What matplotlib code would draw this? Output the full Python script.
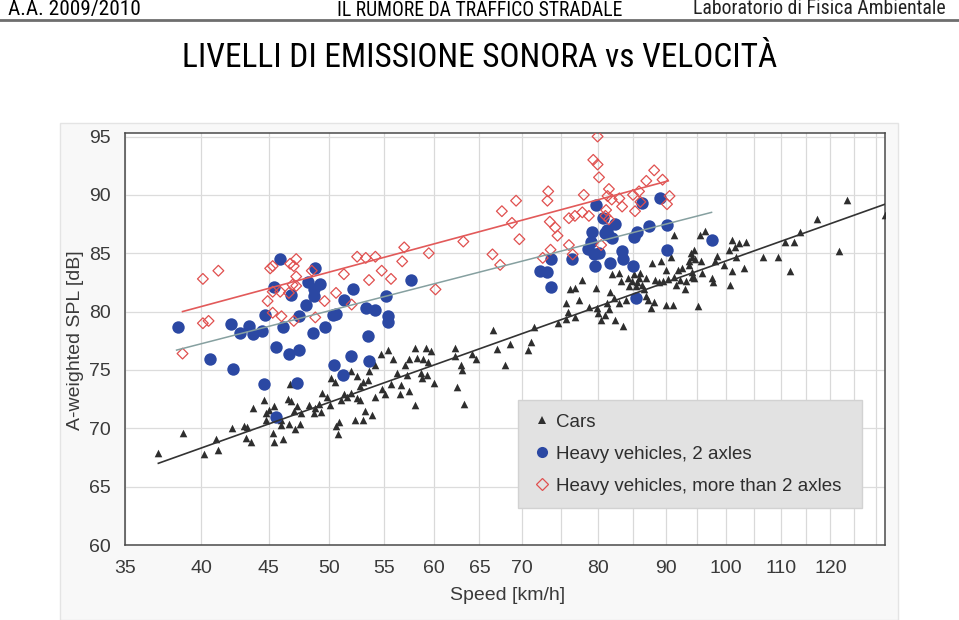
import matplotlib.pyplot as plt
from matplotlib import font_manager as fm
from matplotlib.lines import Line2D
from matplotlib.patches import Rectangle

# ---------- data (speed in km/h, level in dB(A)) ----------
cars_speed = [37.1, 38.7, 40.2, 41.0, 41.2, 42.2, 43.1, 43.3, 43.2, 43.6, 43.8, 44.6, 44.8, 45.0,
              44.8, 45.3, 45.4, 45.4, 46.1, 46.0, 46.0, 46.6, 46.5, 46.8, 47.1, 47.5, 47.3, 47.6,
              47.0, 46.7, 48.3, 48.7, 48.8, 49.1, 49.4, 49.3, 49.8, 50.1, 50.2, 50.6, 50.8, 50.9,
              51.0, 51.3, 51.6, 51.9, 52.3, 52.5, 52.8, 53.0, 53.2, 53.9, 54.2, 54.8, 55.1, 55.7,
              56.6, 56.7, 57.5, 58.1, 60.0, 62.5, 63.3, 52.8, 53.5, 53.0, 50.5,
              54.7, 55.4, 55.9, 54.2, 58.1, 57.5, 57.1, 58.3, 59.2, 59.7, 58.9, 59.4, 62.3, 62.3,
              64.2, 64.6, 66.6, 67.0, 68.6, 68.0, 70.7, 62.9, 63.1, 53.6, 51.9, 52.5, 58.7, 58.8,
              59.3, 57.3, 56.3,
              71.1, 71.5, 74.5, 75.6, 76.8, 75.9, 75.6, 76.2, 76.8, 77.3, 77.8, 78.7, 79.7, 79.8,
              79.9, 80.4, 80.9, 81.2, 81.5, 81.9, 81.7, 82.2, 82.4, 83.0, 83.0, 83.3, 83.5, 84.0,
              84.2, 84.4, 84.9, 85.1, 85.4, 85.6, 85.9, 86.1, 86.4, 86.6, 86.9, 86.9, 87.3, 87.7,
              87.9, 88.2, 88.4, 89.0, 89.3, 89.5, 90.0, 90.0, 90.4, 90.8, 91.1, 91.3, 91.3, 91.6,
              91.9, 92.2, 92.6, 93.0, 93.3, 93.7, 94.1, 94.3, 94.6, 94.8, 95.3, 95.6, 96.4, 95.8,
              95.9, 97.6, 97.8, 94.6, 94.3, 93.8, 94.3, 98.4, 98.1, 99.6, 101.1, 100.6, 101.5,
              102.3, 103.6, 101.7, 101.0, 103.2, 100.7, 106.7, 109.5, 110.8, 112.6, 113.7, 111.9,
              117.2, 121.9, 123.5, 132.0]
cars_spl = [67.9, 69.6, 67.8, 69.1, 68.1, 70.0, 70.2, 70.1, 69.2, 68.8, 71.7, 72.4, 71.3, 71.6,
            70.7, 69.6, 68.8, 71.9, 69.1, 70.7, 70.3, 70.4, 72.5, 72.3, 69.9, 70.4, 71.9, 71.3,
            71.5, 73.8, 72.0, 71.3, 71.7, 72.1, 73.0, 71.4, 72.7, 72.0, 74.3, 70.2, 69.5, 70.5,
            72.4, 72.9, 72.7, 73.0, 70.7, 72.6, 72.4, 70.7, 71.5, 71.1, 72.7, 73.4, 72.9, 73.8,
            72.9, 73.7, 73.2, 72.0, 73.9, 73.5, 72.1, 73.6, 74.1, 74.0, 74.0,
            76.4, 76.7, 75.9, 75.4, 76.9, 75.9, 75.4, 76.0, 76.9, 76.6, 75.9, 75.7, 76.9, 76.2,
            76.4, 75.9, 78.4, 76.8, 77.2, 75.4, 76.7, 75.4, 75.0, 74.9, 74.9, 74.5, 74.7, 74.3,
            74.6, 74.6, 74.7,
            77.4, 78.7, 79.0, 79.4, 79.5, 80.0, 80.7, 81.9, 82.0, 81.0, 82.7, 80.4, 82.0, 80.3,
            79.9, 79.3, 79.7, 80.7, 80.2, 83.2, 81.7, 81.2, 79.3, 80.7, 83.3, 82.6, 78.8, 81.0,
            82.9, 82.2, 82.6, 83.2, 82.2, 82.5, 82.9, 83.3, 82.3, 81.9, 81.3, 82.9, 81.0, 80.3,
            84.2, 80.8, 82.7, 82.5, 84.3, 82.6, 83.6, 80.6, 82.8, 84.7, 80.6, 86.6, 83.0, 82.3,
            83.6, 82.7, 83.7, 81.9, 82.6, 84.3, 85.0, 83.4, 82.9, 84.5, 80.5, 86.6, 86.9, 84.3,
            83.3, 82.9, 82.5, 85.3, 84.7, 84.0, 83.0, 84.8, 84.3, 84.0, 86.1, 85.3, 85.5,
            85.9, 86.0, 84.7, 83.5, 83.7, 82.3, 84.7, 84.7, 86.0, 86.0, 86.8, 83.5,
            87.9, 85.2, 89.6, 88.3]

hv2_speed = [38.4, 40.6, 42.1, 42.3, 42.8, 43.5, 43.8, 44.5, 44.6, 44.7, 45.4, 45.9, 45.6, 45.6,
             46.1, 46.8, 46.6, 47.4, 47.3, 47.4, 48.2, 48.0, 48.8, 48.7, 48.7, 49.2, 48.6, 49.6,
             50.3, 50.6, 50.4, 51.2, 51.3, 52.1, 51.9, 53.3, 53.5, 53.6, 54.2, 55.2, 55.4, 55.4,
             57.7, 72.2, 73.2, 73.6, 73.7, 76.4, 78.6, 79.1, 79.0, 79.4, 79.5, 79.7, 80.1, 80.7,
             81.0, 81.3, 81.9, 82.4, 81.6, 83.4, 83.6, 85.1, 85.6, 85.0, 86.3, 87.4, 89.1, 90.2,
             90.2, 85.5, 97.5, 81.2]
hv2_spl = [78.7, 75.9, 78.9, 75.1, 78.2, 78.8, 78.1, 78.3, 73.8, 79.7, 82.1, 84.5, 71.0, 77.0,
           78.7, 81.4, 76.4, 76.7, 73.9, 79.6, 82.5, 80.6, 83.7, 81.9, 81.3, 82.4, 78.2, 78.7,
           79.7, 79.8, 75.4, 74.6, 81.0, 81.9, 76.2, 80.3, 77.9, 75.8, 80.1, 81.3, 79.6, 79.1,
           82.7, 83.5, 83.4, 84.5, 82.1, 84.5, 85.4, 86.8, 86.0, 84.9, 83.9, 89.1, 85.0, 88.0,
           86.7, 86.6, 86.3, 87.5, 84.2, 85.2, 84.5, 86.4, 86.8, 83.9, 89.3, 87.3, 89.7, 87.4,
           85.3, 81.2, 86.1, 87.0]

hvm_speed = [38.7, 40.1, 41.2, 40.1, 40.5, 45.1, 45.3, 46.7, 47.2, 47.0, 47.2, 47.2, 46.9, 44.9,
             45.3, 45.9, 46.6, 45.3, 46.0, 47.0, 48.5, 48.8, 49.6, 50.6, 51.3, 52.0, 52.5, 53.3,
             54.2, 53.6, 54.8, 55.7, 56.8, 57.0, 59.5, 60.2, 63.2, 66.5, 67.4, 67.6, 69.3, 68.8,
             69.7, 73.3, 73.2, 73.5, 74.2, 74.5, 73.6, 72.6, 76.0, 76.5, 76.0, 76.8, 78.0, 77.8,
             78.7, 79.9, 79.3, 79.9, 80.1, 80.4, 81.5, 81.3, 81.9, 83.0, 83.4, 81.0, 81.5, 81.1,
             85.0, 86.1, 85.9, 85.3, 87.0, 88.2, 89.5, 90.6, 90.2]
hvm_spl = [76.4, 82.8, 83.5, 79.0, 79.2, 83.7, 83.9, 84.1, 84.5, 83.9, 83.0, 82.2, 82.3, 80.9,
           81.7, 81.7, 81.6, 79.9, 79.6, 79.2, 83.5, 79.5, 80.9, 81.6, 83.2, 80.6, 84.7, 84.6,
           84.7, 82.7, 83.5, 82.8, 84.3, 85.5, 85.0, 81.9, 86.0, 84.9, 84.0, 88.6, 89.5, 87.6,
           86.2, 90.3, 89.5, 87.7, 87.2, 86.5, 85.3, 84.6, 85.7, 84.9, 88.0, 88.2, 90.0, 88.5,
           88.2, 95.0, 93.0, 92.6, 91.5, 85.7, 90.5, 89.9, 89.6, 89.7, 89.0, 88.2, 87.9, 88.7,
           90.0, 89.4, 90.3, 88.6, 91.2, 92.1, 91.3, 89.9, 89.2]

# trend lines as drawn on the chart (end points)
cars_fit_speed, cars_fit_spl = [37.1, 132.0], [67.0, 89.2]
hv2_fit_speed, hv2_fit_spl = [38.3, 97.5], [76.7, 88.5]
hvm_fit_speed, hvm_fit_spl = [38.7, 90.4], [80.0, 91.2]

xtick_vals = [35, 40, 45, 50, 55, 60, 65, 70, 80, 90, 100, 110, 120]
xgrid_vals = list(range(35, 131, 5))
ytick_vals = [60, 65, 70, 75, 80, 85, 90, 95]

sans = ["Liberation Sans", "DejaVu Sans"]


def pick_narrow_font():
    # the slide uses a condensed face; take the first condensed regular font installed
    prefs = ["Liberation Sans Narrow", "Arial Narrow", "Roboto Condensed", "Noto Sans",
             "Open Sans", "DejaVu Sans"]
    for name in prefs:
        for f in fm.fontManager.ttflist:
            narrowish = ("narrow" in f.name.lower() or "condensed" in f.name.lower()
                         or "condensed" in str(f.stretch).lower())
            if (f.name == name or f.name.startswith(name)) and narrowish \
                    and f.style == "normal" and f.weight in (400, "normal", "regular", "book"):
                return fm.FontProperties(fname=f.fname)
    return fm.FontProperties(family=sans)


narrow_fp = pick_narrow_font()

fig = plt.figure(figsize=(9.59, 6.20), dpi=100)
fig.patch.set_facecolor("white")

# slide header
hdr_left = fig.text(8 / 959, 1 - 9 / 620, "A.A. 2009/2010", fontproperties=narrow_fp,
                    fontsize=13, ha="left", va="center", color="black")
hdr_mid = fig.text(480 / 959, 1 - 10 / 620, "IL RUMORE DA TRAFFICO STRADALE",
                   fontproperties=narrow_fp, fontsize=13, ha="center", va="center", color="black")
hdr_right = fig.text(946 / 959, 1 - 9 / 620, "Laboratorio di Fisica Ambientale",
                     fontproperties=narrow_fp, fontsize=13, ha="right", va="center",
                     color="#222222")
fig.add_artist(Line2D([0, 1], [1 - 20 / 620] * 2, color="#6e6e6e", lw=2))
title = fig.text(480 / 959, 1 - 58 / 620, "LIVELLI DI EMISSIONE SONORA vs VELOCITÀ",
                 fontproperties=narrow_fp, fontsize=25, ha="center", va="center", color="black")

# scanned figure background
fig.add_artist(Rectangle((60 / 959, 0), 838 / 959, 497 / 620, transform=fig.transFigure,
                         facecolor="#f8f8f8", edgecolor="#e4e4e4", lw=1, zorder=0))

ax = fig.add_axes([125 / 959, 75 / 620, 760 / 959, 412 / 620])
ax.set_facecolor("white")
ax.set_xscale("log")
ax.set_xlim(35, 132)
ax.set_ylim(60, 95.3)

ax.set_xticks(xgrid_vals, minor=True)
ax.set_xticks(xtick_vals)
ax.set_xticklabels([str(v) for v in xtick_vals])
ax.xaxis.set_minor_formatter(plt.NullFormatter())
ax.set_yticks(ytick_vals)
ax.grid(which="both", axis="x", color="#d9d9d9", lw=0.9)
ax.grid(which="major", axis="y", color="#dcdcdc", lw=0.9)
ax.set_axisbelow(True)
ax.tick_params(which="both", length=0, labelsize=14, labelcolor="#3a3a3a")
ax.tick_params(axis="x", pad=11)
ax.tick_params(axis="y", pad=10)
for lab in ax.get_xticklabels() + ax.get_yticklabels():
    lab.set_family(sans)
for sp in ax.spines.values():
    sp.set_color("#4a4a4a")
    sp.set_linewidth(1.1)

ax.scatter(cars_speed, cars_spl, marker="^", s=30, color="#2e2e2e", lw=0, zorder=3)
ax.scatter(hv2_speed, hv2_spl, marker="o", s=80, color="#2b48a3", lw=0, zorder=4)
ax.scatter(hvm_speed, hvm_spl, marker="D", s=30, facecolor="none", edgecolor="#e0504f",
           lw=0.9, zorder=5)

ax.plot(cars_fit_speed, cars_fit_spl, color="#333333", lw=1.2, zorder=6)
ax.plot(hv2_fit_speed, hv2_fit_spl, color="#86a0a0", lw=1.1, zorder=6)
ax.plot(hvm_fit_speed, hvm_fit_spl, color="#e25a5a", lw=1.2, zorder=6)

fig.text(75 / 959, 1 - 340 / 620, "A-weighted SPL [dB]", family=sans, fontsize=14,
         rotation=90, ha="center", va="center", color="#3a3a3a")
fig.text(508 / 959, 1 - 596 / 620, "Speed [km/h]", family=sans, fontsize=14,
         ha="center", va="center", color="#3a3a3a")

handles = [
    Line2D([], [], ls="none", marker="^", ms=6, color="#2e2e2e", mew=0),
    Line2D([], [], ls="none", marker="o", ms=8, color="#2b48a3", mew=0),
    Line2D([], [], ls="none", marker="D", ms=6, mfc="none", mec="#e0504f", mew=0.9),
]
leg = ax.legend(handles, ["Cars", "Heavy vehicles, 2 axles", "Heavy vehicles, more than 2 axles"],
                loc="lower left", bbox_to_anchor=((518 - 125) / 760, (545 - 508) / 412,
                                                  344 / 760, 105 / 412),
                mode="expand", fancybox=False, framealpha=1, facecolor="#e2e2e2",
                edgecolor="#d2d2d2", borderpad=0.7, labelspacing=0.8, handletextpad=0.15,
                handlelength=1.2, borderaxespad=0, prop={"family": sans, "size": 13.5})
for t in leg.get_texts():
    t.set_color("#2e2e2e")

# size the slide texts so they span the same width as on the original slide
fig.canvas.draw()
renderer = fig.canvas.get_renderer()
for txt, width_px in [(hdr_left, 132), (hdr_mid, 284), (hdr_right, 252), (title, 595)]:
    w = txt.get_window_extent(renderer).width
    txt.set_fontsize(txt.get_fontsize() * width_px / w)

fig.savefig("out.png", dpi=100)
